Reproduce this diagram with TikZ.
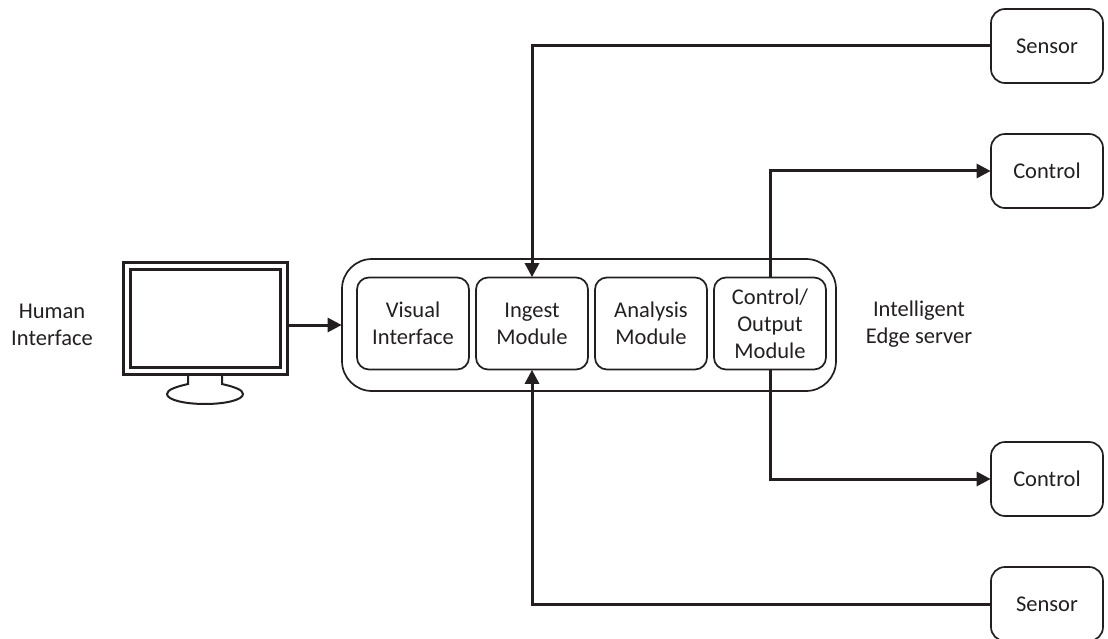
\documentclass[tikz,border=0pt]{standalone}
\usepackage{fontspec}
\setmainfont{Carlito}
\usetikzlibrary{arrows.meta}
\definecolor{ink}{HTML}{231F20}
\tikzset{
  x=1pt,y=-1pt,
  modbox/.style={draw=ink,line width=1.7pt,rounded corners=12pt,minimum width=112pt,minimum height=92pt,inner sep=0pt,align=center,text=ink,font=\fontsize{22.5}{27}\selectfont},
  endbox/.style={draw=ink,line width=1.7pt,rounded corners=14pt,minimum width=112pt,minimum height=74pt,inner sep=0pt,text=ink,font=\fontsize{22.5}{27}\selectfont},
  caption/.style={align=center,text=ink,inner sep=0pt,font=\fontsize{22.5}{27}\selectfont},
  conn/.style={draw=ink,line width=3pt,-{Triangle[length=14pt,width=14pt]},shorten >=-0.5pt},
  screen/.style={draw=ink,line width=3pt,inner sep=0pt},
}
\begin{document}
\begin{tikzpicture}
\useasboundingbox (0,0) rectangle (1108,639);
\clip (0,0) rectangle (1108,639);
\node[draw=ink,line width=1.7pt,rounded corners=30pt,minimum width=494pt,minimum height=132pt,inner sep=0pt] (server) at (589,325) {};
\node[modbox] (visual) at (413,323.5) {Visual\\Interface};
\node[modbox] (ingest) at (532,323.5) {Ingest\\Module};
\node[modbox] (analysis) at (651,323.5) {Analysis\\Module};
\node[modbox] (output) at (770,323.5) {Control/\\Output\\Module};
\node[endbox] (s1) at (1047,46) {Sensor};
\node[endbox] (c1) at (1047,171) {Control};
\node[endbox] (c2) at (1047,479) {Control};
\node[endbox] (s2) at (1047,604) {Sensor};
\node[caption] (human) at (52,324.5) {Human\\Interface};
\node[caption] (edge) at (919,324.5) {Intelligent\\Edge server};
% monitor
\node[screen,minimum width=164pt,minimum height=112pt] (monitor) at (205,318) {};
\node[screen,minimum width=150pt,minimum height=98pt] (panel) at (205,318) {};
\draw[ink,line width=2pt] (188,375) -- (188,384) .. controls (175,387) and (167,390) .. (167,394) .. controls (167,400) and (185,404) .. (205,404) .. controls (225,404) and (243,400) .. (243,394) .. controls (243,390) and (235,387) .. (222,384) -- (222,375);
% connectors
\draw[conn] (monitor.east |- server.west) -- (server.west);
\draw[conn] (s1.west) -| (ingest.north);
\draw[conn] (s2.west) -| (ingest.south);
\draw[conn] (output.north) |- (c1.west);
\draw[conn] (output.south) |- (c2.west);
\end{tikzpicture}
\end{document}
